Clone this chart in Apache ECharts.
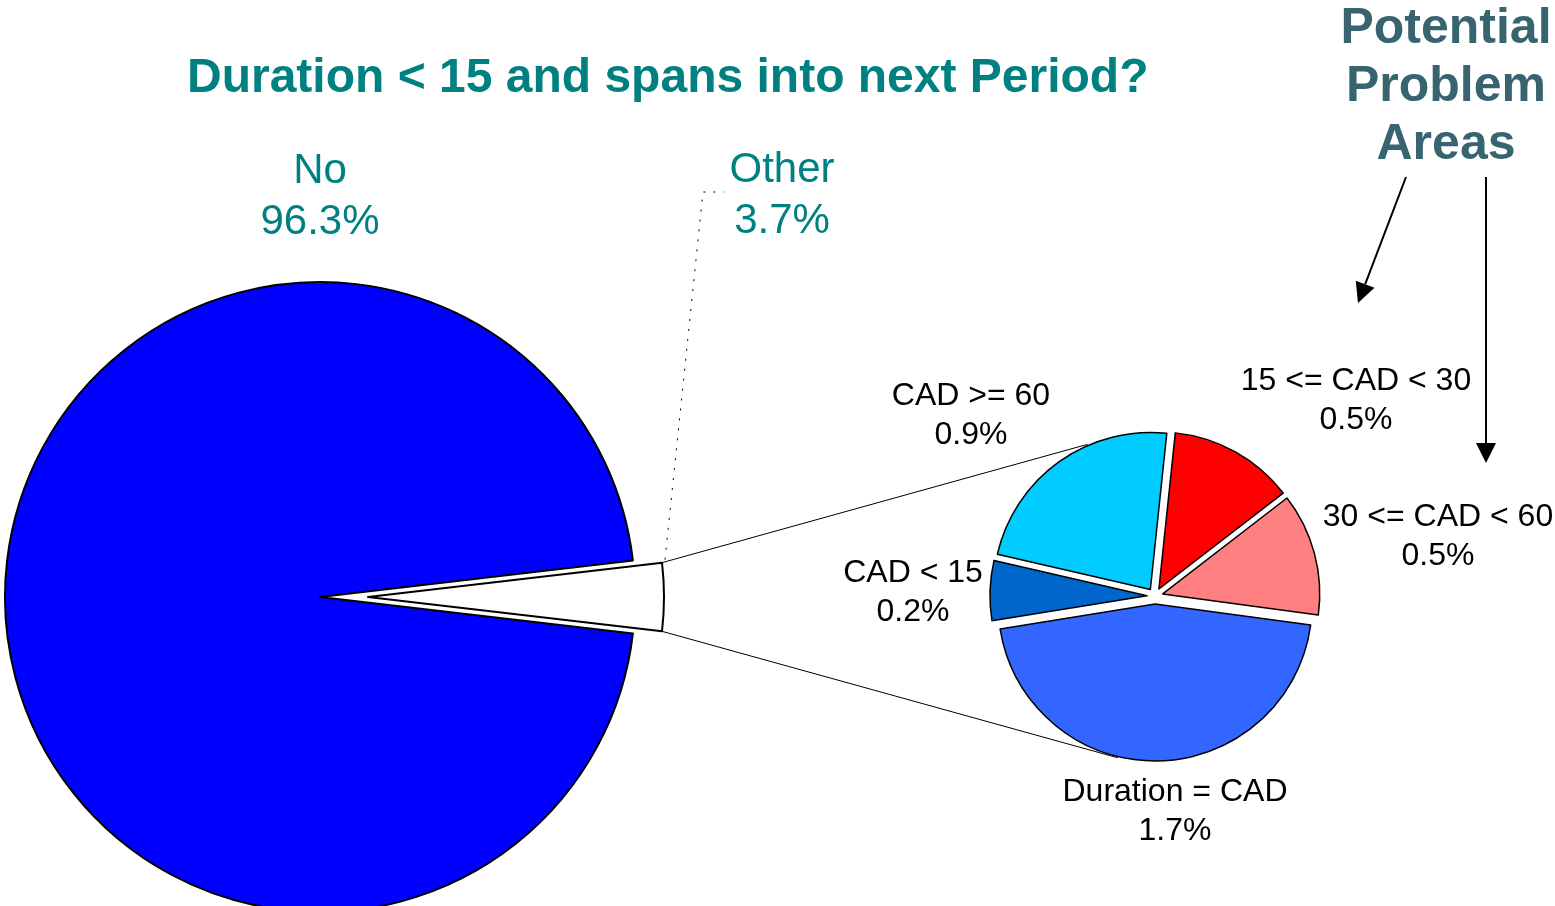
<!DOCTYPE html>
<html>
<head>
<meta charset="utf-8">
<title>Duration pie</title>
<script src="https://cdn.jsdelivr.net/npm/echarts@6/dist/echarts.min.js"></script>
<style>
html, body { margin: 0; padding: 0; background: #fff; }
#main { width: 1555px; height: 906px; }
</style>
</head>
<body>
<div id="main"></div>
<script>
// data
var mainNames = ['No', 'Other'];
var mainValues = [96.3, 3.7];
var otherNames = ['CAD >= 60', '15 <= CAD < 30', '30 <= CAD < 60', 'Duration = CAD', 'CAD < 15'];
var otherValues = [0.86, 0.48, 0.47, 1.69, 0.23];
var otherColors = ['#00CCFF', '#FF0000', '#FF8080', '#3366FF', '#0066CC'];
var titleText = 'Duration < 15 and spans into next Period?';
var noteText = 'Potential\nProblem\nAreas';

var FONT = 'Liberation Sans, Arial, sans-serif';

// layout (pixels)
var bigC = [320, 597], bigR = 315;      // main pie
var outC = [368, 597], outR = 296;      // exploded "Other" slice
var smallC = [1155, 596], smallR = 157; // breakdown pie
var mainLabelPos = [[320, 197], [782, 196]];
var smallLabelPos = [[971, 416], [1356, 401], [1438, 537], [1175, 812], [913, 593]];

var dom = document.getElementById('main');
var myChart = echarts.init(dom);

var total = mainValues[0] + mainValues[1];
var otherHalf = mainValues[1] / total * 180; // half angle, degrees
var halfRad = otherHalf * Math.PI / 180;
var topCorner = [outC[0] + outR * Math.cos(halfRad), outC[1] - outR * Math.sin(halfRad)];
var botCorner = [outC[0] + outR * Math.cos(halfRad), outC[1] + outR * Math.sin(halfRad)];

function polar(c, r, deg) {
    var a = deg * Math.PI / 180;
    return [c[0] + r * Math.cos(a), c[1] - r * Math.sin(a)];
}
var smallTop = polar(smallC, smallR + 9, 114);
var smallBot = polar(smallC, smallR + 9, -103);

// arrow with filled head
function arrow(x1, y1, x2, y2) {
    var ang = Math.atan2(y2 - y1, x2 - x1);
    var len = 20, w = 10;
    var bx = x2 - len * Math.cos(ang), by = y2 - len * Math.sin(ang);
    var px = -Math.sin(ang) * w, py = Math.cos(ang) * w;
    return [
        { type: 'line', shape: { x1: x1, y1: y1, x2: bx, y2: by }, style: { stroke: '#000', lineWidth: 2 } },
        { type: 'polygon', shape: { points: [[x2, y2], [bx + px, by + py], [bx - px, by - py]] }, style: { fill: '#000' } }
    ];
}

function pctLabel(p) {
    return p.name + '\n' + p.value.toFixed(1) + '%';
}
function fixedLayout(pos) {
    return function (p) {
        return { x: pos[p.dataIndex][0], y: pos[p.dataIndex][1], align: 'center', verticalAlign: 'middle' };
    };
}

var bigData = mainNames.map(function (n, i) {
    return {
        name: n,
        value: mainValues[i],
        itemStyle: i === 0 ? { color: '#0000FF', borderColor: '#000', borderWidth: 2 }
                           : { color: 'rgba(0,0,0,0)', borderWidth: 0 },
        label: { show: i === 0 }
    };
});
var outData = mainNames.map(function (n, i) {
    return {
        name: n,
        value: mainValues[i],
        itemStyle: i === 1 ? { color: '#FFFFFF', borderColor: '#000', borderWidth: 2 }
                           : { color: 'rgba(0,0,0,0)', borderWidth: 0 },
        label: { show: i === 1 },
        labelLine: { show: i === 1 }
    };
});
// exploded slices (all selected)
var smallData = otherNames.map(function (n, i) {
    return {
        name: n,
        value: otherValues[i],
        selected: true,
        itemStyle: { color: otherColors[i] }
    };
});
// same slices again, transparent, carrying the labels
var smallLabelData = otherNames.map(function (n, i) {
    return { name: n, value: otherValues[i] };
});

var graphics = [
    { type: 'line', z: 1, shape: { x1: topCorner[0], y1: topCorner[1], x2: smallTop[0], y2: smallTop[1] }, style: { stroke: '#000', lineWidth: 1 } },
    { type: 'line', z: 1, shape: { x1: botCorner[0], y1: botCorner[1], x2: smallBot[0], y2: smallBot[1] }, style: { stroke: '#000', lineWidth: 1 } },
    {
        type: 'text', x: 1446, y: 0,
        style: {
            text: noteText, font: 'bold 50px ' + FONT, fill: '#37646E',
            align: 'center', textAlign: 'center', verticalAlign: 'top', textVerticalAlign: 'top', lineHeight: 58
        }
    }
].concat(arrow(1406, 177, 1358, 303), arrow(1486, 177, 1486, 463));

myChart.setOption({
    animation: false,
    title: {
        text: titleText,
        left: 187,
        top: 55,
        padding: 0,
        textStyle: { color: '#008080', fontSize: 48, fontWeight: 'bold', fontFamily: FONT }
    },
    graphic: graphics,
    series: [
        {
            name: 'main',
            type: 'pie',
            silent: true,
            center: bigC,
            radius: bigR,
            startAngle: -otherHalf,
            clockwise: true,
            emphasis: { disabled: true },
            label: {
                position: 'inside',
                color: '#008080',
                fontSize: 42,
                lineHeight: 51,
                fontFamily: FONT,
                overflow: 'none',
                formatter: pctLabel
            },
            labelLine: { show: false },
            labelLayout: fixedLayout(mainLabelPos),
            data: bigData
        },
        {
            name: 'other',
            type: 'pie',
            silent: true,
            center: outC,
            radius: outR,
            startAngle: -otherHalf,
            clockwise: true,
            emphasis: { disabled: true },
            label: {
                position: 'outside',
                color: '#008080',
                fontSize: 42,
                lineHeight: 51,
                fontFamily: FONT,
                formatter: pctLabel
            },
            labelLine: { lineStyle: { color: '#000', width: 1, type: [2, 8] } },
            labelLayout: function (p) {
                return {
                    x: mainLabelPos[p.dataIndex][0], y: mainLabelPos[p.dataIndex][1],
                    align: 'center', verticalAlign: 'middle',
                    labelLinePoints: [[topCorner[0] + 3, topCorner[1] - 3], [703, 192], [724, 192]]
                };
            },
            data: outData
        },
        {
            name: 'breakdown',
            type: 'pie',
            silent: true,
            center: smallC,
            radius: smallR,
            startAngle: 167,
            clockwise: true,
            selectedMode: 'multiple',
            selectedOffset: 8,
            emphasis: { disabled: true },
            itemStyle: { borderColor: '#000', borderWidth: 1.5 },
            label: { show: false },
            labelLine: { show: false },
            data: smallData
        },
        {
            name: 'breakdownLabels',
            type: 'pie',
            silent: true,
            center: smallC,
            radius: smallR,
            startAngle: 167,
            clockwise: true,
            emphasis: { disabled: true },
            itemStyle: { color: 'rgba(0,0,0,0)', borderWidth: 0 },
            label: {
                position: 'inside',
                color: '#000',
                fontSize: 32,
                lineHeight: 39,
                fontFamily: FONT,
                overflow: 'none',
                formatter: pctLabel
            },
            labelLine: { show: false },
            labelLayout: fixedLayout(smallLabelPos),
            data: smallLabelData
        }
    ]
});
window.addEventListener('resize', function () {
    myChart.resize();
});
</script>
</body>
</html>
